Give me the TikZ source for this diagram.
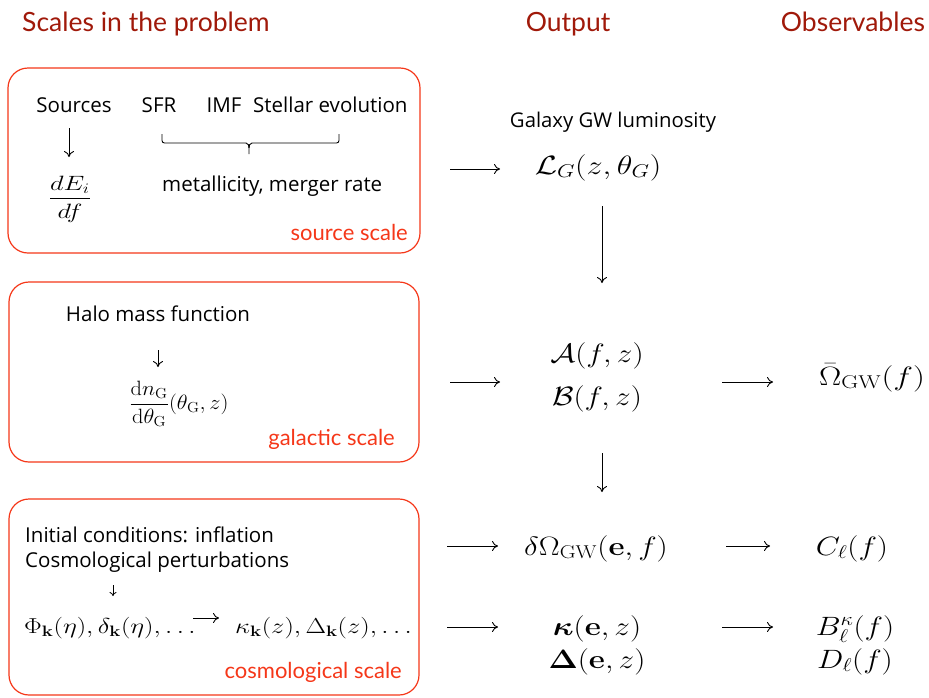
\RequirePackage{fix-cm}
\documentclass[tikz,border=0pt]{standalone}
\usepackage{amsmath}
\usepackage{graphicx}
\usepackage[no-math]{fontspec}
\setmainfont{Open Sans}
\newfontfamily\headf{Lato}
\usetikzlibrary{arrows.meta}
\definecolor{hdr}{RGB}{160,25,10}
\definecolor{bxr}{RGB}{245,55,25}
\newcommand\mst[1]{\scalebox{1.18}[1]{$#1$}}
\newcommand\msx[2]{\scalebox{#1}[1]{$#2$}}
\begin{document}
\begin{tikzpicture}[x=1pt,y=-1pt,
  hdrtext/.style={font=\headf\fontsize{26.5}{30}\selectfont, text=hdr, inner sep=0},
  body/.style={font=\fontsize{20.5}{24}\selectfont, inner sep=0},
  smalltext/.style={font=\fontsize{20.3}{24}\selectfont, inner sep=0},
  scalelab/.style={font=\headf\fontsize{22}{26}\selectfont, text=bxr, inner sep=0},
  scalerect/.style={draw=bxr, line width=1.2pt, rounded corners=20pt, inner sep=0},
  bigmath/.style={font=\fontsize{26.5}{30}\selectfont, inner sep=0},
  boxmath/.style={font=\fontsize{21.6}{26}\selectfont, inner sep=0},
  fracmath/.style={font=\fontsize{20.7}{25}\selectfont, inner sep=0},
  arr/.style={-{To[length=6pt,width=10pt]}, line width=0.9pt},
  smallarr/.style={-{To[length=4pt,width=7pt]}, line width=0.8pt},
]
\useasboundingbox (0,0) rectangle (929,697);

% headers
\node[hdrtext, anchor=base west] (hscales) at (22,31) {Scales in the problem};
\node[hdrtext, anchor=base] (houtput) at (568,31) {Output};
\node[hdrtext, anchor=base] (hobs) at (853,31) {Observables};

% boxes
\node[scalerect, minimum width=412pt, minimum height=185pt] (srcbox) at (214,160.5) {};
\node[scalerect, minimum width=410pt, minimum height=180pt] (galbox) at (214,372) {};
\node[scalerect, minimum width=410pt, minimum height=196pt] (cosbox) at (214,597) {};

% source scale box
\node[body, anchor=base] (sources) at (74,112) {Sources};
\node[body, anchor=base] (sfr) at (159,112) {SFR};
\node[body, anchor=base] (imf) at (224,112) {IMF};
\node[body, anchor=base west] (stellar) at (253,112) {Stellar evolution};
\node[fracmath] (dEdf) at (70,199) {\msx{1.28}{\dfrac{dE_i}{df}}};
\node[body, anchor=base west] (metal) at (162,191) {metallicity, merger rate};
\node[scalelab, anchor=base east] (srclab) at (408,240) {source scale};
\coordinate (s1) at (69,128);
\coordinate (e1) at (69,157);
\draw[arr] (s1) -- (e1);
\draw[line width=0.9pt, rounded corners=2.5pt] (162,134) -- (162,143) -- (246,143);
\draw[line width=0.9pt, rounded corners=2.5pt] (339,134) -- (339,143) -- (252,143);
\draw[line width=0.9pt] (246,143) to[out=0,in=90] (249,148) -- (249,154);
\draw[line width=0.9pt] (252,143) to[out=180,in=90] (249,148);

% galactic scale box
\node[body, anchor=base] (halo) at (158,321) {Halo mass function};
\coordinate (s2) at (158,350);
\coordinate (e2) at (158,367);
\draw[arr] (s2) -- (e2);
\node[fracmath] (dndth) at (179,404) {\msx{1.08}{\dfrac{\mathrm{d}n_{\mathrm{G}}}{\mathrm{d}\theta_{\mathrm{G}}}(\theta_{\mathrm{G}},z)}};
\node[scalelab, anchor=base east] (gallab) at (395,445) {galactic scale};

% cosmological scale box
\node[body, anchor=base west] (init) at (25,542) {Initial conditions: inflation};
\node[body, anchor=base west] (pert) at (25,567) {Cosmological perturbations};
\coordinate (s3) at (113,585);
\coordinate (e3) at (113,596);
\draw[smallarr] (s3) -- (e3);
\node[boxmath, anchor=base west] (phi) at (24,633) {\msx{1.23}{\Phi_{\mathbf k}(\eta),\delta_{\mathbf k}(\eta),\ldots}};
\node[boxmath, anchor=base west] (kapk) at (235,633) {\msx{1.23}{\kappa_{\mathbf k}(z),\Delta_{\mathbf k}(z),\ldots}};
\coordinate (s4) at (193,618);
\coordinate (e4) at (219,618);
\draw[arr] (s4) -- (e4);
\node[scalelab, anchor=base east] (coslab) at (402,678) {cosmological scale};

% output column
\node[smalltext, anchor=base] (galgw) at (613,127) {Galaxy GW luminosity};
\node[bigmath, anchor=base] (LG) at (598,174) {\msx{1.22}{\mathcal{L}_G(z,\theta_G)}};
\node[bigmath, anchor=base] (A) at (597,362) {\mst{\mathcal{A}(f,z)}};
\node[bigmath, anchor=base] (B) at (597,405) {\mst{\mathcal{B}(f,z)}};
\node[bigmath, anchor=base] (dOm) at (596,555) {\mst{\delta\Omega_{\mathrm{GW}}(\mathbf{e},f)}};
\node[bigmath, anchor=base] (kapE) at (597,635) {\mst{\boldsymbol{\kappa}(\mathbf{e},z)}};
\node[bigmath, anchor=base] (DelE) at (597,668) {\mst{\boldsymbol{\Delta}(\mathbf{e},z)}};

% observables column
\node[bigmath, anchor=base] (Om) at (872,385) {\msx{1.26}{\bar\Omega_{\mathrm{GW}}(f)}};
\node[bigmath, anchor=base] (Cl) at (852,555) {\mst{C_\ell(f)}};
\node[bigmath, anchor=base] (Bk) at (855,635) {\mst{B^\kappa_\ell(f)}};
\node[bigmath, anchor=base] (Dl) at (855,668) {\mst{D_\ell(f)}};

% connectors
\coordinate (srcout) at (450,169);
\coordinate (LGin) at (500,169);
\draw[arr] (srcout) -- (LGin);
\coordinate (LGout) at (602,206);
\coordinate (ABin) at (602,283);
\draw[arr] (LGout) -- (ABin);
\coordinate (galout) at (450,382);
\coordinate (ABleft) at (500,382);
\draw[arr] (galout) -- (ABleft);
\coordinate (ABright) at (722,382);
\coordinate (Omin) at (773,382);
\draw[arr] (ABright) -- (Omin);
\coordinate (ABout) at (602,453);
\coordinate (dOmin) at (602,492);
\draw[arr] (ABout) -- (dOmin);
\coordinate (cosout1) at (447,546);
\coordinate (dOmleft) at (498,546);
\draw[arr] (cosout1) -- (dOmleft);
\coordinate (dOmright) at (726,546);
\coordinate (Clin) at (770,546);
\draw[arr] (dOmright) -- (Clin);
\coordinate (cosout2) at (447,627);
\coordinate (kapleft) at (498,627);
\draw[arr] (cosout2) -- (kapleft);
\coordinate (kapright) at (722,627);
\coordinate (Bkin) at (773,627);
\draw[arr] (kapright) -- (Bkin);
\end{tikzpicture}
\end{document}
